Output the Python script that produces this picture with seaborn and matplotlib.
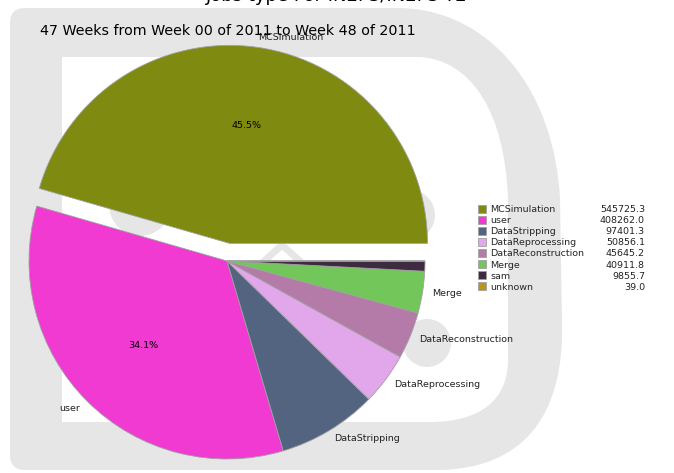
import numpy as np
import matplotlib
matplotlib.use('Agg')
import matplotlib.pyplot as plt
import seaborn as sns
from matplotlib.path import Path
from matplotlib.patches import PathPatch, Circle

job_types = ['MCSimulation', 'user', 'DataStripping', 'DataReprocessing',
             'DataReconstruction', 'Merge', 'sam', 'unknown']
job_values = [545725.3, 408262.0, 97401.3, 50856.1, 45645.2, 40911.8, 9855.7, 39.0]
job_colors = ['#7f8a10', '#f03ad2', '#52647f', '#e2a6ea',
              '#b47aa8', '#73c659', '#3e2b3f', '#b8961c']

title = 'Jobs type For IN2P3/IN2P3-T2'
subtitle = '47 Weeks from Week 00 of 2011 to Week 48 of 2011'

sns.set_style('white')
plt.rcParams['font.family'] = ['DejaVu Sans']

W, H = 674, 473
fig = plt.figure(figsize=(W / 100, H / 100), dpi=100)

# grey logo watermark behind the pie (pixel coords, y down)
bg = fig.add_axes([0, 0, 1, 1], zorder=0)
bg.set_xlim(0, W)
bg.set_ylim(H, 0)
bg.axis('off')
grey = '#e6e6e6'

M, L, C4, C3, Z = Path.MOVETO, Path.LINETO, Path.CURVE4, Path.CURVE3, Path.CLOSEPOLY
outer = Path(
    [(25, 8), (400, 8), (490, 10), (555, 90), (560, 200), (562, 320),
     (565, 420), (520, 468), (440, 470), (25, 470), (10, 470), (10, 455),
     (10, 23), (10, 8), (25, 8), (25, 8)],
    [M, L, C4, C4, C4, L, C4, C4, C4, L, C3, C3, L, C3, C3, Z])
inner = Path(
    [(62, 57), (420, 57), (470, 60), (505, 110), (508, 200), (508, 360),
     (508, 400), (480, 422), (430, 422), (62, 422), (62, 57)],
    [M, L, C4, C4, C4, L, C4, C4, C4, L, Z])
bg.add_patch(PathPatch(outer, facecolor=grey, edgecolor='none'))
bg.add_patch(PathPatch(inner, facecolor='white', edgecolor='none'))
bg.add_patch(Circle((140, 205), 31, facecolor=grey, edgecolor='none'))
bg.add_patch(Circle((410, 215), 25, facecolor=grey, edgecolor='none'))
bg.add_patch(Circle((427, 343), 24, facecolor=grey, edgecolor='none'))
bg.plot([262, 282, 302], [263, 245, 263], color=grey, lw=5)

# pie
cx, cy, r = 227, 261, 198
half = 1.25 * r
ax = fig.add_axes([(cx - half) / W, (H - cy - half) / H, 2 * half / W, 2 * half / H], zorder=1)
ax.set_facecolor('none')

total = sum(job_values)
labels = [n if v / total > 0.01 else '' for n, v in zip(job_types, job_values)]
explode = [0.09] + [0] * (len(job_values) - 1)

wedges, texts, autotexts = ax.pie(
    job_values,
    labels=labels,
    colors=job_colors,
    explode=explode,
    startangle=0,
    labeldistance=1.05,
    pctdistance=0.6,
    autopct=lambda p: f'{p:.1f}%' if p > 10 else '',
    wedgeprops=dict(edgecolor='#a0a0a0', linewidth=0.6),
    textprops=dict(fontsize=6.8, color='#222222'),
)
for t in autotexts:
    t.set_color('black')
ax.set_xlim(-1.25, 1.25)
ax.set_ylim(-1.25, 1.25)

fig.text(0.5, 1 - 1 / H, title, ha='center', va='baseline', fontsize=13, color='black')
fig.text(40 / W, 1 - 35 / H, subtitle, ha='left', va='baseline', fontsize=10.3, color='black')

leg = fig.legend(wedges, job_types, loc='upper left',
                 bbox_to_anchor=(478 / W, 1 - 205 / H),
                 frameon=False, fontsize=6.8, handlelength=0.9, handleheight=0.9,
                 handletextpad=0.4, labelspacing=0.2, borderpad=0, borderaxespad=0)

fig.canvas.draw()
for t, v in zip(leg.get_texts(), job_values):
    bb = t.get_window_extent()
    yc = (bb.y0 + bb.y1) / 2 / (fig.get_figheight() * fig.dpi)
    fig.text(645 / W, yc, f'{v:.1f}', ha='right', va='center', fontsize=6.8, color='#222222')

fig.savefig('out.png', dpi=100)
